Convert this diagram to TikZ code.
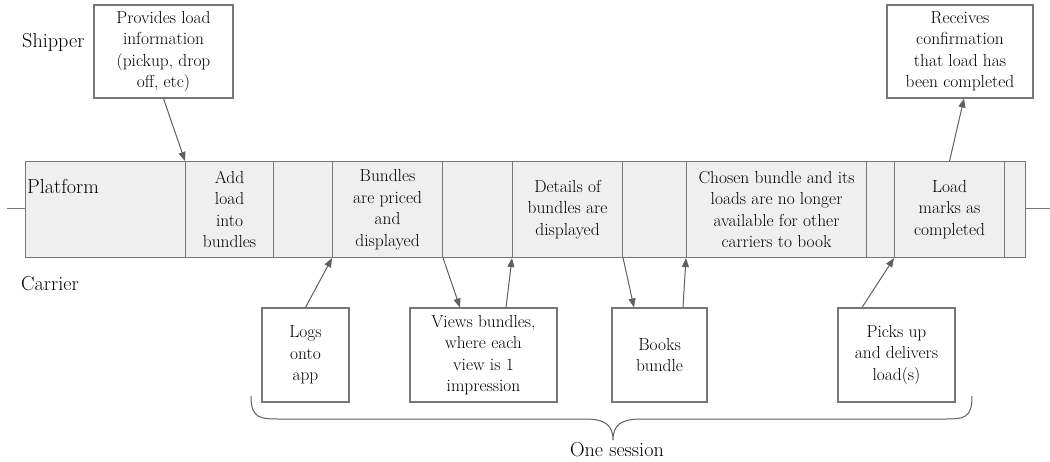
\documentclass[tikz,border=0pt]{standalone}
\usepackage{fontspec}
\usetikzlibrary{arrows.meta,positioning}
\definecolor{cellfill}{HTML}{EFEFEF}
\definecolor{edge}{HTML}{777777}
\definecolor{arr}{HTML}{606060}
\tikzset{
  cell/.style={draw=edge, fill=cellfill, line width=1.1pt, rectangle, inner sep=0pt, anchor=north west, minimum height=96pt, align=center, font=\fontsize{17.4}{21.5}\selectfont},
  box/.style={draw=edge, fill=white, line width=1.1pt, rectangle, inner sep=0pt, align=center, font=\fontsize{17.4}{21.5}\selectfont},
  lane/.style={inner sep=0pt, anchor=base west, font=\fontsize{20.2}{24}\selectfont},
  conn/.style={draw=arr, line width=1pt, -{Triangle[length=9pt,width=7pt]}},
  rail/.style={draw=edge, line width=1pt}
}
\begin{document}
\begin{tikzpicture}[x=1pt,y=-1pt]
\useasboundingbox (0,0) rectangle (1050,461);
% rail lines
\coordinate (railL) at (7,208.5);
\coordinate (railR) at (1050,208);
% platform cells
\node[cell, minimum width=160pt] (plat) at (25,161) {};
\node[cell, minimum width=88pt] (addc) at (185,161) {Add\\load\\into\\bundles};
\node[cell, minimum width=59pt] (e1) at (273,161) {};
\node[cell, minimum width=110pt] (bund) at (332,161) {Bundles\\are priced\\and\\displayed};
\node[cell, minimum width=70pt] (e2) at (442,161) {};
\node[cell, minimum width=110pt] (det) at (512,161) {Details of\\bundles are\\displayed};
\node[cell, minimum width=64pt] (e3) at (622,161) {};
\node[cell, minimum width=180pt] (chos) at (686,161) {Chosen bundle and its\\loads are no longer\\available for other\\carriers to book};
\node[cell, minimum width=28pt] (e4) at (866,161) {};
\node[cell, minimum width=110pt] (ldc) at (894,161) {Load\\marks as\\completed};
\node[cell, minimum width=21pt] (e5) at (1004,161) {};
\draw[rail] (railL) -- (railL -| plat.west);
\draw[rail] (railR -| e5.east) -- (railR);
% lane labels
\node[lane] (lship) at (22,47) {Shipper};
\node[lane] (lplat) at (27,193) {Platform};
\node[lane] (lcarr) at (21,290) {Carrier};
% shipper boxes
\node[box, minimum width=139pt, minimum height=93pt] (ship) at (163.5,51.5) {Provides load\\information\\(pickup, drop\\off, etc)};
\node[box, minimum width=146pt, minimum height=93pt] (recv) at (960,51.5) {Receives\\confirmation\\that load has\\been completed};
% carrier boxes
\node[box, minimum width=87pt, minimum height=94pt] (logs) at (305.5,355) {Logs\\onto\\app};
\node[box, minimum width=147pt, minimum height=94pt] (views) at (483.5,355) {Views bundles,\\where each\\view is 1\\impression};
\node[box, minimum width=95pt, minimum height=94pt] (books) at (659.5,355) {Books\\bundle};
\node[box, minimum width=117pt, minimum height=94pt] (picks) at (896.5,355) {Picks up\\and delivers\\load(s)};
% connectors
\draw[conn] (ship.south) -- (addc.north west);
\draw[conn] (ldc.north) -- ([xshift=4pt]recv.south);
\draw[conn] (logs.north) -- (bund.south west);
\draw[conn] (bund.south east) -- ([xshift=-23.5pt]views.north);
\draw[conn] ([xshift=22.5pt]views.north) -- (det.south west);
\draw[conn] (det.south east) -- ([xshift=-25.5pt]books.north);
\draw[conn] ([xshift=23.5pt]books.north) -- (chos.south west);
\draw[conn] ([xshift=-34.5pt]picks.north) -- (ldc.south west);
% brace
\coordinate (bL) at (251,396);
\coordinate (bM) at (613,440);
\coordinate (bR) at (972,396);
\draw[draw=arr, line width=1pt] (bL) .. controls (251,419) and (260,419) .. (282,419) -- (585,419)
  .. controls (605,419) and (613,425) .. (bM)
  .. controls (613,425) and (621,419) .. (641,419) -- (942,419)
  .. controls (964,419) and (972,419) .. (bR);
\node[inner sep=0pt, anchor=base, font=\fontsize{20.2}{24}\selectfont] (sess) at (617,456) {One session};
\end{tikzpicture}
\end{document}
